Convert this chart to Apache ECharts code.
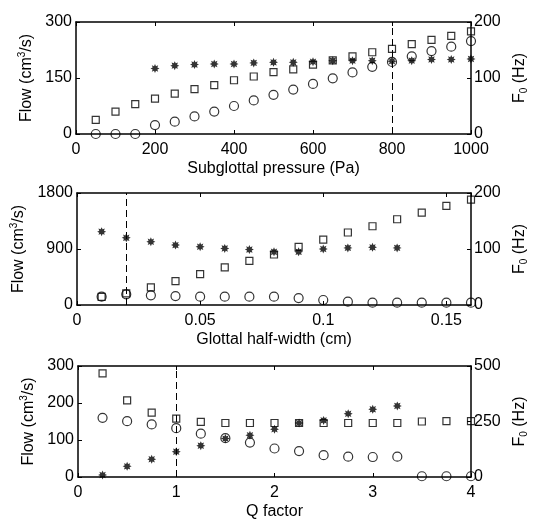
<!DOCTYPE html>
<html>
<head>
<meta charset="utf-8">
<script src="https://cdn.jsdelivr.net/npm/echarts@6/dist/echarts.min.js"></script>
<style>
  html, body { margin: 0; padding: 0; background: #fff; }
  #chart { width: 537px; height: 521px; }
</style>
</head>
<body>
<div id="chart"></div>
<script>
// panel 1: subglottal pressure
var pressure = [50,100,150,200,250,300,350,400,450,500,550,600,650,700,750,800,850,900,950,1000];
var flowP   = [38,60,80,95,108,120,131,144,154,166,173,186,197,208,219,228,241,252,263,275];
var circP   = [0,0,0,24,33,47,60,75,90,105,119,134,149,165,180,193,208,222,234,249];
var f0Pres  = [200,250,300,350,400,450,500,550,600,650,700,750,800,850,900,950,1000];
var f0P     = [117,122,124,125,125,127,128,128,129,131,131,131,130,131,133,133,134];

// panel 2: glottal half-width
var width   = [0.01,0.02,0.03,0.04,0.05,0.06,0.07,0.08,0.09,0.1,0.11,0.12,0.13,0.14,0.15,0.16];
var flowW   = [130,187,283,385,497,604,710,812,935,1052,1165,1266,1378,1485,1592,1693];
var circW   = [134,171,155,144,134,134,134,134,112,80,53,37,37,37,37,37];
var f0Width = [0.01,0.02,0.03,0.04,0.05,0.06,0.07,0.08,0.09,0.1,0.11,0.12,0.13];
var f0W     = [131,120,113,107,104,101,99,95,95,100,102,103,102];

// panel 3: Q factor
var qf      = [0.25,0.5,0.75,1,1.25,1.5,1.75,2,2.25,2.5,2.75,3,3.25,3.5,3.75,4];
var flowQ   = [280,207,174,158,149,146,146,146,146,146,146,146,146,150,151,151];
var circQ   = [160,151,142,132,117,105,93,77,70,59,55,54,55,2,2,2];
var f0Qf    = [0.25,0.5,0.75,1,1.25,1.5,1.75,2,2.25,2.5,2.75,3,3.25];
var f0Q     = [9,48,80,114,141,173,188,215,243,255,285,305,320];

var dashX   = [800, 0.02, 1];
var xNames  = ['Subglottal pressure (Pa)', 'Glottal half-width (cm)', 'Q factor'];

var FONT = 'Liberation Sans, Arial, sans-serif';
var FS = 16;
var STAR = 'path://M0,-5L1.1,-2.6L3.54,-3.54L2.6,-1.1L5,0L2.6,1.1L3.54,3.54L1.1,2.6L0,5L-1.1,2.6L-3.54,3.54L-2.6,1.1L-5,0L-2.6,-1.1L-3.54,-3.54L-1.1,-2.6Z';

var grids = [
    {left: 76, top: 22, width: 401, height: 112},
    {left: 77, top: 193, width: 400, height: 112},
    {left: 78, top: 366, width: 400, height: 112}
];
var xCfg = [
    {min: 0, max: 1000, interval: 200},
    {min: 0, max: 0.16, interval: 0.05},
    {min: 0, max: 4, interval: 1}
];
var yLeft = [
    {min: 0, max: 300, interval: 150},
    {min: 0, max: 1800, interval: 900},
    {min: 0, max: 300, interval: 100}
];
var yRight = [
    {min: 0, max: 200, interval: 100},
    {min: 0, max: 200, interval: 100},
    {min: 0, max: 500, interval: 250}
];

var lineStyle = {color: '#000', width: 1.5};
var richText = {
    n: {fontFamily: FONT, fontSize: FS, color: '#000'},
    sup: {fontFamily: FONT, fontSize: 10, color: '#000', padding: [0, 0, 8, 0]},
    sub: {fontFamily: FONT, fontSize: 10, color: '#000', padding: [8, 0, 0, 0]}
};
function plain(v) { return String(v); }

var xAxes = [], yAxes = [], series = [];
for (var i = 0; i < 3; i++) {
    xAxes.push({
        gridIndex: i, type: 'value', position: 'bottom',
        min: xCfg[i].min, max: xCfg[i].max, interval: xCfg[i].interval,
        name: xNames[i], nameLocation: 'middle', nameGap: 27,
        nameTextStyle: {fontFamily: FONT, fontSize: FS, color: '#000'},
        axisLine: {onZero: false, lineStyle: lineStyle},
        axisTick: {inside: true, length: 4, lineStyle: {color: '#000'}},
        axisLabel: {fontFamily: FONT, fontSize: FS, color: '#000', margin: 8, showMaxLabel: i !== 1, formatter: plain},
        splitLine: {show: false}
    });
    xAxes.push({
        gridIndex: i, type: 'value', position: 'top',
        min: xCfg[i].min, max: xCfg[i].max, interval: xCfg[i].interval,
        axisLine: {onZero: false, lineStyle: lineStyle},
        axisTick: {inside: true, length: 4, lineStyle: {color: '#000'}},
        axisLabel: {show: false},
        splitLine: {show: false}
    });
    yAxes.push({
        gridIndex: i, type: 'value', position: 'left',
        min: yLeft[i].min, max: yLeft[i].max, interval: yLeft[i].interval,
        name: '{n|Flow (cm}{sup|3}{n|/s)}', nameLocation: 'middle', nameGap: 39,
        nameTextStyle: {rich: richText},
        axisLine: {onZero: false, lineStyle: lineStyle},
        axisTick: {inside: true, length: 4, lineStyle: {color: '#000'}},
        axisLabel: {fontFamily: FONT, fontSize: FS, color: '#000', margin: 4, formatter: plain},
        splitLine: {show: false}
    });
    yAxes.push({
        gridIndex: i, type: 'value', position: 'right',
        min: yRight[i].min, max: yRight[i].max, interval: yRight[i].interval,
        name: '{n|F}{sub|0}{n| (Hz)}', nameLocation: 'middle', nameGap: 40, nameRotate: 90,
        nameTextStyle: {rich: richText},
        axisLine: {onZero: false, lineStyle: lineStyle},
        axisTick: {inside: true, length: 4, lineStyle: {color: '#000'}},
        axisLabel: {fontFamily: FONT, fontSize: FS, color: '#000', margin: 3, formatter: plain},
        splitLine: {show: false}
    });
}

function pairs(xs, ys) {
    return xs.map(function (x, k) { return [x, ys[k]]; });
}

var sets = [
    [pressure, flowP, circP, f0Pres, f0P],
    [width, flowW, circW, f0Width, f0W],
    [qf, flowQ, circQ, f0Qf, f0Q]
];

sets.forEach(function (s, i) {
    series.push({
        type: 'scatter', xAxisIndex: i * 2, yAxisIndex: i * 2,
        symbol: 'rect', symbolSize: 7,
        itemStyle: {color: 'rgba(255,255,255,0)', borderColor: '#000', borderWidth: 1.2},
        data: pairs(s[0], s[1]),
        markLine: {
            silent: true, symbol: 'none', label: {show: false},
            lineStyle: {color: '#000', type: [7, 4], width: 1},
            data: [{xAxis: dashX[i]}]
        }
    });
    series.push({
        type: 'scatter', xAxisIndex: i * 2, yAxisIndex: i * 2,
        symbol: 'circle', symbolSize: 9,
        itemStyle: {color: 'rgba(255,255,255,0)', borderColor: '#000', borderWidth: 1.2},
        data: pairs(s[0], s[2])
    });
    series.push({
        type: 'scatter', xAxisIndex: i * 2, yAxisIndex: i * 2 + 1,
        symbol: STAR, symbolSize: 9,
        itemStyle: {color: '#000'},
        data: pairs(s[3], s[4])
    });
});

var chart = echarts.init(document.getElementById('chart'));
chart.setOption({
    animation: false,
    backgroundColor: '#fff',
    grid: grids,
    xAxis: xAxes,
    yAxis: yAxes,
    series: series
});
</script>
</body>
</html>
